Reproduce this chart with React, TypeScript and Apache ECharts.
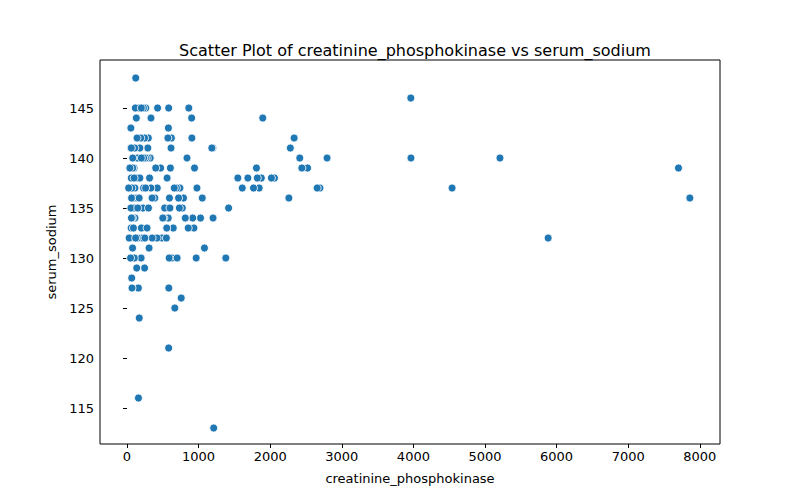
import React, { useEffect, useRef } from 'react';
import * as echarts from 'echarts';

// [creatinine_phosphokinase, serum_sodium]
const points: number[][] = [
  [7861,136],[7702,139],[5882,132],[5209,140],[4540,137],[3964,146],[3966,140],[2794,140],[2695,137],[2656,137],
  [2522,139],[2442,139],[2413,140],[2334,142],[2281,141],[2261,136],[2060,138],[2017,138],[1896,144],[1876,138],
  [1846,137],[1820,138],[1808,139],[1767,137],[1688,138],[1610,137],[1548,138],[1419,135],[1380,130],[1211,113],
  [1202,134],[1199,141],[1185,141],[1082,131],[1051,136],[1027,134],[977,137],[966,130],[943,139],[935,133],
  [918,134],[906,142],[903,144],[863,145],[855,133],[838,140],[814,134],[789,136],[773,135],[757,126],
  [739,137],[731,135],[691,137],[668,125],[646,133],[626,130],[620,142],[615,141],[606,139],[593,136],
  [589,130],[584,127],[582,121],[582,145],[578,143],[576,134],[571,142],[560,138],[555,133],[526,135],
  [516,134],[490,132],[470,139],[427,145],[423,137],[420,132],[401,139],[389,136],[351,132],[335,144],
  [334,137],[324,140],[315,138],[308,131],[298,142],[291,141],[283,140],[263,145],[258,140],[246,129],
  [245,142],[234,140],[231,137],[224,135],[213,132],[200,133],[197,130],[192,142],[180,141],[171,124],
  [168,145],[160,116],[159,127],[148,140],[146,132],[143,138],[136,129],[130,144],[125,136],[122,148],
  [116,145],[112,134],[111,137],[109,141],[102,130],[99,139],[94,135],[87,136],[80,140],[78,131],
  [76,134],[70,127],[68,137],[66,128],[64,136],[62,134],[60,138],[58,133],[55,135],[54,143],
  [53,141],[50,130],[47,139],[40,132],[30,132],[23,137],[120,132],[200,140],[250,132],[300,135],
  [350,136],[230,145],[180,138],[170,136],[140,142],[90,133],[260,137],[280,133],[500,134],[550,132],
  [600,135],[660,137],[700,130],[720,136],[100,138],[150,135],[200,145],[80,139],[40,139],[60,141],
];

const xTicks = [0, 1000, 2000, 3000, 4000, 5000, 6000, 7000, 8000];
const yTicks = [115, 120, 125, 130, 135, 140, 145];

const App: React.FC = () => {
  const chartRef = useRef<HTMLDivElement>(null);

  useEffect(() => {
    if (!chartRef.current) return;
    const chart = echarts.init(chartRef.current, null, { renderer: 'svg' });
    const axisCommon = {
      type: 'value' as const,
      splitLine: { show: false },
      axisLine: { show: false },
      axisTick: { show: true, length: 4, lineStyle: { color: '#000' } },
      axisLabel: {
        color: '#000', fontSize: 13, fontFamily: 'DejaVu Sans', margin: 6,
        formatter: (v: number) => String(v),
      },
      nameLocation: 'middle' as const,
      nameTextStyle: { color: '#000', fontSize: 13, fontFamily: 'DejaVu Sans' },
    };
    chart.setOption({
      animation: false,
      title: {
        text: 'Scatter Plot of creatinine_phosphokinase vs serum_sodium',
        left: 402, top: 29, textAlign: 'center',
        textStyle: { fontSize: 16, fontWeight: 'normal', color: '#000', fontFamily: 'DejaVu Sans' },
      },
      grid: { left: 92, right: 72, top: 52, bottom: 48, show: true, borderColor: '#000', borderWidth: 1 },
      xAxis: {
        ...axisCommon,
        min: -377, max: 8282,
        name: 'creatinine_phosphokinase', nameGap: 28,
        axisTick: { ...axisCommon.axisTick, customValues: xTicks },
        axisLabel: { ...axisCommon.axisLabel, customValues: xTicks },
      },
      yAxis: {
        ...axisCommon,
        min: 111.4, max: 149.8,
        name: 'serum_sodium', nameGap: 38,
        axisTick: { ...axisCommon.axisTick, customValues: yTicks },
        axisLabel: { ...axisCommon.axisLabel, customValues: yTicks },
      },
      series: [{
        type: 'scatter',
        data: points,
        symbolSize: 8,
        itemStyle: { color: '#1f77b4', borderColor: '#fff', borderWidth: 0.8, opacity: 1 },
      }],
    });
    return () => { chart.dispose(); };
  }, []);

  return <div ref={chartRef} style={{ width: 784, height: 484 }} />;
};

export default App;
